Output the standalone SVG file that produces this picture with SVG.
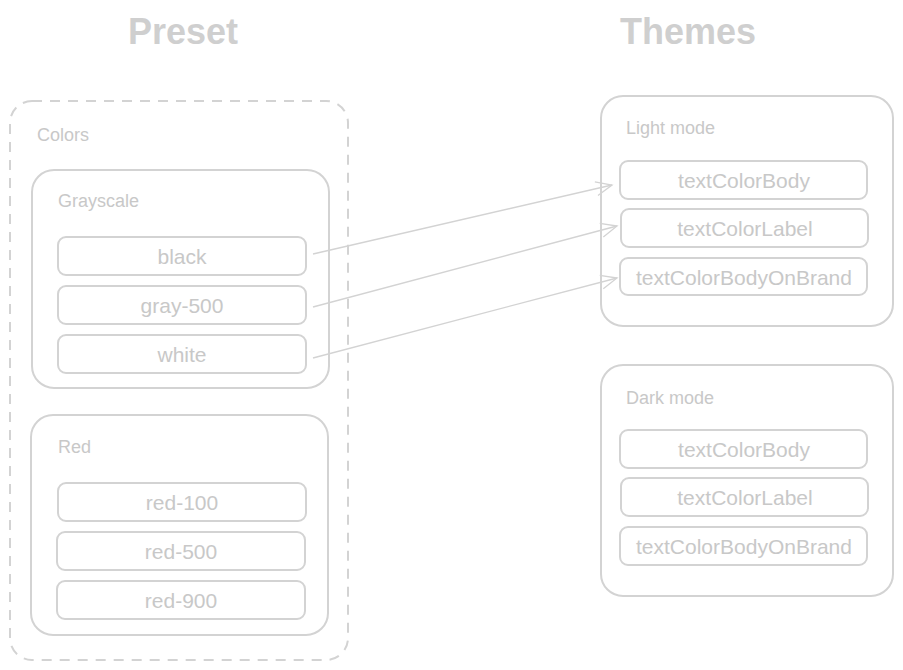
<svg xmlns="http://www.w3.org/2000/svg" width="903" height="670" viewBox="0 0 903 670">
<defs>
<style>
.box{fill:none;stroke:#d3d3d3;stroke-width:2}
.item{fill:none;stroke:#d3d3d3;stroke-width:2}
.title{font-family:"Liberation Sans",Arial,sans-serif;font-weight:bold;font-size:36px;fill:#cfcfcf;text-anchor:middle}
.lbl{font-family:"Liberation Sans",Arial,sans-serif;font-size:18px;fill:#c8c8c8}
.it{font-family:"Liberation Sans",Arial,sans-serif;font-size:21px;fill:#c8c8c8;text-anchor:middle;dominant-baseline:central}
.conn{fill:none;stroke:#d3d3d3;stroke-width:1.3}
</style>
<marker id="arr" viewBox="0 0 20 20" refX="18" refY="10" markerWidth="20" markerHeight="20" markerUnits="userSpaceOnUse" orient="auto">
<path d="M2 3 L18 10 L2 17" fill="none" stroke="#d3d3d3" stroke-width="1.3"/>
</marker>
</defs>
<rect width="903" height="670" fill="#ffffff"/>
<text class="title" x="183" y="44">Preset</text>
<text class="title" x="688" y="44">Themes</text>
<g id="colors">
<rect x="10" y="101" width="338" height="559" rx="22" fill="none" stroke="#d3d3d3" stroke-width="2" stroke-dasharray="10 8"/>
<text class="lbl" x="37" y="141">Colors</text>
</g>
<g id="grayscale">
<rect class="box" x="32" y="170" width="297" height="218" rx="22"/>
<text class="lbl" x="58" y="207">Grayscale</text>
</g>
<g id="black"><rect class="item" x="58" y="237" width="248" height="38" rx="8"/><text class="it" x="182" y="256">black</text></g>
<g id="gray-500"><rect class="item" x="58" y="286" width="248" height="38" rx="8"/><text class="it" x="182" y="305">gray-500</text></g>
<g id="white"><rect class="item" x="58" y="335" width="248" height="38" rx="8"/><text class="it" x="182" y="354">white</text></g>
<g id="red">
<rect class="box" x="31" y="415" width="297" height="220" rx="22"/>
<text class="lbl" x="58" y="453">Red</text>
</g>
<g id="red-100"><rect class="item" x="58" y="483" width="248" height="38" rx="8"/><text class="it" x="182" y="502">red-100</text></g>
<g id="red-500"><rect class="item" x="57" y="532" width="248" height="38" rx="8"/><text class="it" x="181" y="551">red-500</text></g>
<g id="red-900"><rect class="item" x="57" y="581" width="248" height="38" rx="8"/><text class="it" x="181" y="600">red-900</text></g>
<g id="light-mode">
<rect class="box" x="601" y="96" width="292" height="230" rx="22"/>
<text class="lbl" x="626" y="134">Light mode</text>
</g>
<g id="lm-body"><rect class="item" x="620" y="161" width="247" height="38" rx="8"/><text class="it" x="744" y="180">textColorBody</text></g>
<g id="lm-label"><rect class="item" x="621" y="209" width="247" height="38" rx="8"/><text class="it" x="745" y="228">textColorLabel</text></g>
<g id="lm-brand"><rect class="item" x="620" y="258" width="247" height="37" rx="8"/><text class="it" x="744" y="277">textColorBodyOnBrand</text></g>
<g id="dark-mode">
<rect class="box" x="601" y="365" width="292" height="231" rx="22"/>
<text class="lbl" x="626" y="404">Dark mode</text>
</g>
<g id="dm-body"><rect class="item" x="620" y="430" width="247" height="38" rx="8"/><text class="it" x="744" y="449">textColorBody</text></g>
<g id="dm-label"><rect class="item" x="621" y="478" width="247" height="38" rx="8"/><text class="it" x="745" y="497">textColorLabel</text></g>
<g id="dm-brand"><rect class="item" x="620" y="527" width="247" height="38" rx="8"/><text class="it" x="744" y="546">textColorBodyOnBrand</text></g>
<g id="connectors">
<path class="conn" d="M313 254 L612 185" marker-end="url(#arr)"/>
<path class="conn" d="M313 307 L617 226" marker-end="url(#arr)"/>
<path class="conn" d="M313 358 L617 278" marker-end="url(#arr)"/>
</g>
</svg>
